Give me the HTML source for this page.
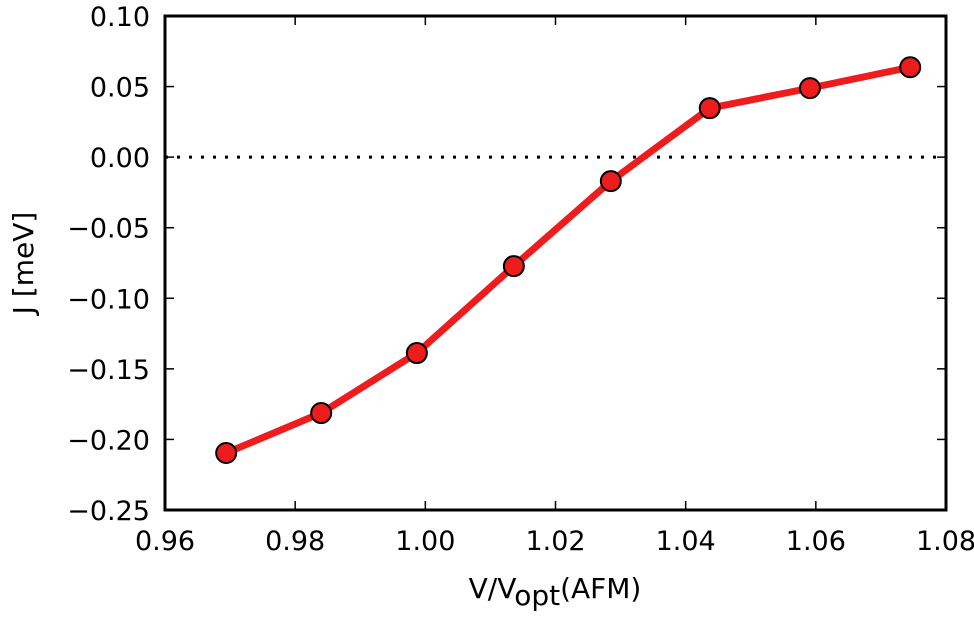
<!DOCTYPE html>
<html><head><meta charset="utf-8"><style>
html,body{margin:0;padding:0;background:#fff;}
svg{display:block;font-family:"DejaVu Sans","Liberation Sans",sans-serif;}
</style></head><body>
<svg id="chart" width="974" height="627" viewBox="0 0 974 627"></svg>
<script>
const xValues=[0.9694,0.9840,0.9987,1.0136,1.0285,1.0437,1.0591,1.0745];
const yValues=[-0.2096,-0.1813,-0.1388,-0.0772,-0.0170,0.0347,0.0489,0.0637];
const xTicks=[0.96,0.98,1.00,1.02,1.04,1.06,1.08];
const yTicks=[0.10,0.05,0.00,-0.05,-0.10,-0.15,-0.20,-0.25];
const xTickLabels=["0.96","0.98","1.00","1.02","1.04","1.06","1.08"];
const yTickLabels=["0.10","0.05","0.00","\u22120.05","\u22120.10","\u22120.15","\u22120.20","\u22120.25"];

const L=165,R=946,T=16,B=510;
const xMin=0.96,xMax=1.08,yMin=-0.25,yMax=0.10;
const sx=v=>L+(v-xMin)/(xMax-xMin)*(R-L);
const sy=v=>B-(v-yMin)/(yMax-yMin)*(B-T);
const svg=document.getElementById('chart');
const NS='http://www.w3.org/2000/svg';
function mk(tag,attrs,parent){const e=document.createElementNS(NS,tag);for(const k in attrs)e.setAttribute(k,attrs[k]);(parent||svg).appendChild(e);return e;}

let z=mk('line',{x1:L,x2:R,y1:sy(0),y2:sy(0),stroke:'#000','stroke-width':3,'stroke-dasharray':'3,9'});



xTicks.forEach((v,i)=>{
  const x=sx(v);
  let t=mk('line',{x1:x,x2:x,y1:B,y2:B-9,stroke:'#000','stroke-width':1.5});
  
  
  let t2=mk('line',{x1:x,x2:x,y1:T,y2:T+9,stroke:'#000','stroke-width':1.5});
  
  
  let lb=mk('text',{x:x,y:B+40,'text-anchor':'middle','font-size':27});
  lb.textContent=xTickLabels[i];
  
  
});
yTicks.forEach((v,i)=>{
  const y=sy(v);
  let t=mk('line',{x1:L,x2:L+9,y1:y,y2:y,stroke:'#000','stroke-width':1.5});
  
  
  let t2=mk('line',{x1:R,x2:R-9,y1:y,y2:y,stroke:'#000','stroke-width':1.5});
  
  
  let lb=mk('text',{x:L-15,y:y+10,'text-anchor':'end','font-size':27});
  lb.textContent=yTickLabels[i];
  
  
});

let pts=xValues.map((v,i)=>sx(v)+','+sy(yValues[i])).join(' ');
let pl=mk('polyline',{points:pts,fill:'none',stroke:'#ee1c1c','stroke-width':7,'stroke-linejoin':'round'});


xValues.forEach((v,i)=>{
  let c=mk('circle',{cx:sx(v),cy:sy(yValues[i]),r:10,fill:'#ee1c1c',stroke:'#000','stroke-width':2});
  
  
});

let f=mk('rect',{x:L,y:T,width:R-L,height:B-T,fill:'none',stroke:'#000','stroke-width':3});



let xt=mk('text',{x:555,y:598,'text-anchor':'middle','font-size':28});
xt.innerHTML='V/V<tspan dy="7">opt</tspan><tspan dy="-7">(AFM)</tspan>';


let yt=mk('text',{x:0,y:0,'text-anchor':'middle','font-size':28,transform:'translate(33,263) rotate(-90)'});
yt.textContent='J [meV]';


</script>
</body></html>
